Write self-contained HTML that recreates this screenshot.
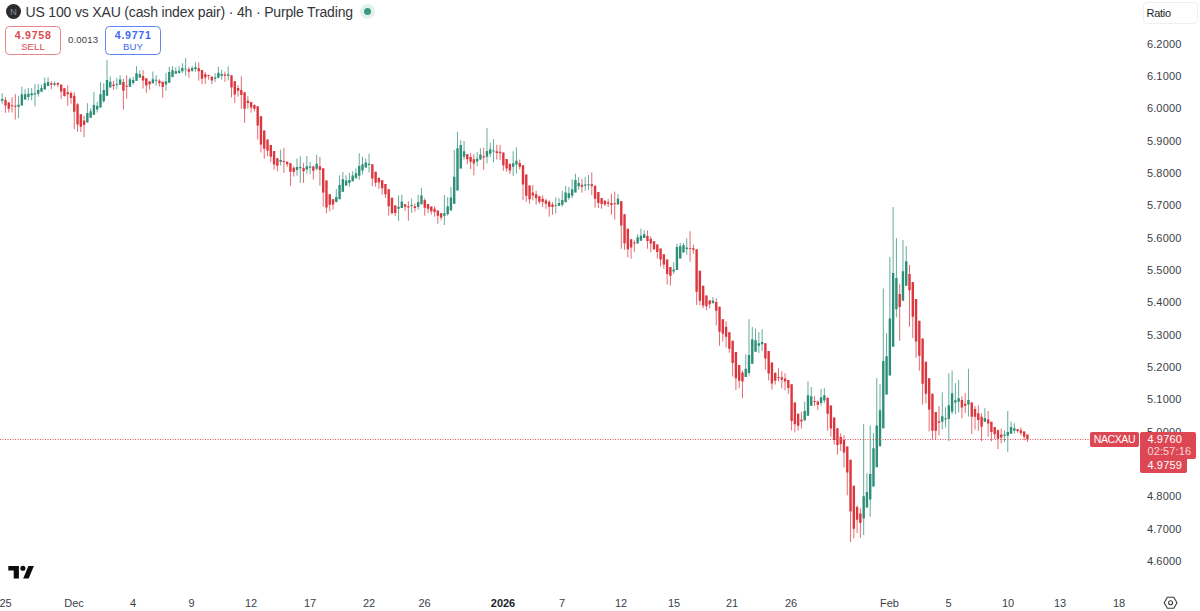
<!DOCTYPE html>
<html><head><meta charset="utf-8"><title>NACXAU chart</title>
<style>
html,body{margin:0;padding:0;background:#fff;}
body{width:1200px;height:611px;position:relative;overflow:hidden;font-family:"Liberation Sans",sans-serif;color:#131722;}
.abs{position:absolute;white-space:nowrap;}
#chart{position:absolute;left:0;top:0;width:1200px;height:611px;}
.title{left:25.5px;top:4.3px;font-size:14px;letter-spacing:-0.165px;line-height:16px;color:#33353b;}
.logoN{left:6px;top:4.1px;width:15px;height:15px;border-radius:50%;background:#2b2b2d;color:#8c8c90;font-size:9.5px;line-height:15px;text-align:center;}
.dotO{left:360.4px;top:4.4px;width:15px;height:15px;border-radius:50%;background:#e3f1ed;}
.dotI{left:364.4px;top:8.4px;width:7px;height:7px;border-radius:50%;background:#3a9780;}
.btn{top:25.6px;width:54px;height:27px;border:1px solid;border-radius:4.5px;text-align:center;}
.btn b{display:block;font-size:10.6px;line-height:12px;margin-top:2.5px;letter-spacing:0.75px;text-indent:0.4px;}
.btn span{display:block;font-size:9.6px;line-height:10px;margin-top:0.5px;letter-spacing:0.05px;}
.sell{left:5px;border-color:#e8868d;color:#dd4953;}
.buy{left:105px;border-color:#5f86f6;color:#3f68f0;}
.spread{left:68px;top:33.9px;font-size:9.6px;line-height:11px;color:#3c3f48;letter-spacing:0.15px;}
.ratio{left:1143px;top:1.5px;width:53px;height:20px;border:1px solid #efeff1;border-radius:4px;}
.ratio span{position:absolute;left:2.6px;top:4px;font-size:11px;line-height:13px;letter-spacing:-0.3px;color:#1c1f28;}
.pl{left:1146.9px;font-size:11px;line-height:13px;letter-spacing:0.15px;color:#3b3e47;}
.tl{top:596.5px;font-size:11px;line-height:13px;color:#3b3e47;transform:translateX(-50%);}
.tag{background:#dd4753;color:#fff;font-size:11px;}
</style></head><body>
<svg id="chart" viewBox="0 0 1200 611" shape-rendering="geometricPrecision">
<path d="M-1.08 95V105.4M2.2 93.2V103.75M18.58 95.8V118.3M21.85 86.7V105.4M25.13 89.2V99.6M28.4 87.9V100.4M31.68 87.9V100.4M34.96 84V106.25M38.23 84.2V96.7M41.51 84.6V91.7M44.78 77.7V89.6M48.06 77.25V86.25M54.61 81.5V86.25M87.36 103.2V122.5M90.64 108.3V117.7M93.91 92.1V114.8M97.19 101.7V112.5M100.47 82.1V107.5M103.74 83.3V102.7M107.02 60.2V95.7M110.29 76.5V87.5M116.84 77.9V89.2M120.12 75.2V85M129.94 77.3V86.7M133.22 77.1V84.6M136.5 66.25V81M139.77 70.4V77.9M152.87 71.5V83.3M156.15 75.2V85.7M165.97 72.9V90.8M169.25 66.8V82.7M172.53 66.25V77.3M175.8 67.3V74M179.08 66.25V73.5M182.35 63.2V72.9M185.63 57.9V75.8M192.18 65.8V71.7M195.45 62.1V71.7M215.11 73.2V81.8M218.38 66.7V78.3M221.66 69.8V79.6M228.21 66.25V80.4M280.62 149.6V165.4M297 158.5V175.7M300.27 156.25V182.9M306.82 156V173.75M310.1 162V174.2M316.65 154.6V170.4M336.3 189.2V202.5M339.58 175.4V199.2M342.85 172V191.8M346.13 175.4V185.7M349.4 172.9V186.7M352.68 171.25V181.25M355.95 168.3V178.3M359.23 153.2V179.8M362.51 156.7V174.6M365.78 158.5V167.7M369.06 153.75V172.5M398.54 195.4V220.8M401.81 194.8V207.9M411.64 198.5V212.9M418.19 194.8V209.6M421.46 187.9V204.3M444.39 195V225M447.67 197.3V215.8M450.94 187V210.4M454.22 150V203.75M457.49 132V190.4M460.77 140.2V168.5M464.05 141V159.6M477.15 152V166.25M480.42 148.3V160.2M486.97 128.2V163.5M490.25 142.7V157M493.53 139V162.3M513.18 151.25V175.8M516.45 147.3V173.5M555.76 197.5V213.6M559.03 198.3V205.8M562.31 190.8V206.7M565.59 186V202.3M568.86 187V199.8M572.14 179.2V198.3M575.41 173.75V192.5M578.69 177V189.8M585.24 177V190.7M588.51 175V190M617.99 194.2V204.6M637.65 234V243.5M640.92 228.75V240.7M644.2 230.2V238M673.68 262.3V273.75M676.95 243.75V270M680.23 243V258.5M683.5 243V252.5M686.78 238.2V254.8M712.98 297V303.75M745.74 354.3V377M749.01 319.2V375.5M752.29 327V363.75M755.56 328.75V351.7M758.84 332V353M762.12 329.3V351.25M804.7 401.5V420.4M807.97 381.25V415.7M811.25 387V405.7M821.07 389V405.7M824.35 388.2V403M863.66 424.2V535M866.93 473.2V507.5M870.21 425.4V516.75M873.48 433.2V486.5M876.76 378.2V467.2M880.03 384.2V446.25M883.31 288.5V428.3M886.59 333.2V394.6M889.86 257V375.4M893.14 207V346.7M896.41 238V317.5M902.96 240V300.8M906.24 246V285.7M942.27 392.3V429.2M945.54 407.3V427.5M948.82 373.2V441.25M952.1 370.4V414.3M955.37 383.2V414.3M958.65 380V412.5M968.47 368.75V416.5M984.85 408.2V422M1004.5 430.4V442M1007.78 411V451.9M1011.05 421.5V433.75M1014.33 423.2V433.5" stroke="#2e8f78" stroke-width="0.85" fill="none" opacity="0.88"/>
<path d="M5.48 97.1V112.9M8.75 102V112.5M12.03 97.1V112.5M15.3 94V119.6M51.33 81.25V89.2M57.88 82.3V87.1M61.16 84.2V98.75M64.43 87.9V96.7M67.71 85.4V105.8M70.99 91.25V103.75M74.26 92.1V129.2M77.54 103V131.7M80.81 114.3V132.1M84.09 115.8V137.1M113.57 80.8V90M123.39 78.75V109.6M126.67 75.2V98.5M143.05 70.2V88.5M146.32 78.2V92.7M149.6 80.8V89.6M159.42 79.2V86.5M162.7 81.5V97.7M188.9 67.1V77.7M198.73 62.3V80.7M202.01 69.8V84.2M205.28 72.1V83.75M208.56 74.8V79.6M211.83 76V84.2M224.93 71.5V81.8M231.49 75.2V97.5M234.76 81.25V102.9M238.04 85.2V96.7M241.31 76.25V108.75M244.59 92.3V122.9M247.86 96.25V108.75M251.14 102V112.7M254.41 104.5V111.5M257.69 106.25V139.6M260.96 116.25V152.5M264.24 130.4V158.75M267.52 139.6V156.25M270.79 145V162M274.07 151V169.6M277.34 158.2V171.25M283.89 147.9V172.9M287.17 161.5V166.8M290.44 163V185.7M293.72 166.25V176.5M303.55 162.9V182.9M313.37 165.8V179.6M319.92 156.8V185.8M323.2 168.3V206.7M326.47 180.4V213.2M329.75 194.2V211.25M333.03 199V209.6M372.33 164.3V186.25M375.61 171.7V186.6M378.88 177.7V189M382.16 180.2V194.6M385.43 184V197.9M388.71 189.2V215.7M391.98 197.7V214.6M395.26 205V216M405.09 204.2V210.8M408.36 201.25V220.7M414.91 203.3V211.7M424.74 198.3V215.7M428.02 204V212.9M431.29 206.5V214.6M434.57 206.25V216.7M437.84 210.4V223.75M441.12 213V220.4M467.32 154V164.2M470.6 153.2V169M473.87 154.2V175.4M483.7 147.7V169.8M496.8 144.8V159.6M500.08 144.8V160M503.35 152.5V170.7M506.63 159V171.8M509.9 163.75V174.2M519.73 159.6V169.6M523 165V200M526.28 174.6V201.7M529.56 185.4V203.75M532.83 185V200.4M536.11 190.8V204.6M539.38 196V203.75M542.66 195.4V207M545.93 198.75V208.75M549.21 200.4V216.5M552.48 202V214.8M581.96 179V192.7M591.79 172.3V195M595.07 185.8V207.7M598.34 192V208M601.62 198V208.75M604.89 200V205.8M608.17 199.2V207M611.44 193.75V214.8M614.72 191.7V219.6M621.27 201.25V248.75M624.54 214.2V249.8M627.82 228.75V257.3M631.1 239.2V258.75M634.37 240.2V251.8M647.47 230.4V248.75M650.75 236.25V252.3M654.02 241.25V250M657.3 244.6V258.5M660.58 248.5V266.5M663.85 254.3V268.75M667.13 259.6V284.3M670.4 267V285.4M690.05 231.25V261.7M693.33 244.6V253.75M696.61 249.2V305M699.88 270.8V305M703.16 285.8V308.3M706.43 295.4V310.4M709.71 300V308.3M716.26 298.2V325.4M719.53 306.7V345.7M722.81 319.3V341.7M726.09 321.25V347.5M729.36 332.3V352.7M732.64 340.7V376.5M735.91 352V390M739.19 365V388.3M742.46 370.4V398.3M765.39 343.2V369.6M768.67 351V380.4M771.94 362.5V389.6M775.22 372.7V384.6M778.49 368.2V381.4M781.77 371V388.4M785.04 373.2V390.4M788.32 380V393.75M791.6 384.2V430.4M794.87 402.5V432.3M798.15 413.6V430.7M801.42 412V428.5M814.52 396V406M817.8 400.4V409.8M827.63 397.7V430.8M830.9 405.4V436.7M834.18 417.5V444.6M837.45 428.3V454.6M840.73 433.2V451M844 435.2V467.4M847.28 446.5V495.4M850.55 459.8V542M853.83 485.8V538.4M857.11 505.4V533M860.38 508.2V537.8M899.69 283.75V340.8M909.51 265V326.7M912.79 282V338M916.06 299V357.7M919.34 320.7V370.7M922.62 338.5V404.6M925.89 361.7V403.3M929.17 378.2V431.5M932.44 393.75V439.6M935.72 412V439.6M938.99 406V435.4M961.92 396.25V418.3M965.2 393.2V413M971.75 402.5V434M975.02 406.25V429.6M978.3 405.4V430.8M981.57 413.3V441.25M988.13 411V436.7M991.4 421.8V441.25M994.68 427V439.2M997.95 429.6V449M1001.23 428.5V443.3M1017.61 429V432.7M1020.88 427.5V435.4M1024.16 431.5V440.4M1027.43 434.6V442" stroke="#dc363e" stroke-width="0.85" fill="none" opacity="0.88"/>
<path d="M-2.28 99H0.12V101H-2.28ZM1 99H3.4V100.7H1ZM17.38 104.8H19.78V106.7H17.38ZM20.65 94.2H23.05V105.4H20.65ZM23.93 94.2H26.33V99.6H23.93ZM27.2 93.75H29.6V97.1H27.2ZM30.48 93.2H32.88V95.2H30.48ZM33.76 93.3H36.16V94.6H33.76ZM37.03 90H39.43V93.75H37.03ZM40.31 87.9H42.71V91.7H40.31ZM43.58 83.3H45.98V89.6H43.58ZM46.86 82.1H49.26V86H46.86ZM53.41 83.3H55.81V84.8H53.41ZM86.16 112.9H88.56V122.5H86.16ZM89.44 111.25H91.84V117.7H89.44ZM92.71 105H95.11V114.8H92.71ZM95.99 105.8H98.39V109.6H95.99ZM99.27 94.2H101.67V107.5H99.27ZM102.54 90H104.94V101.25H102.54ZM105.82 80H108.22V95.7H105.82ZM109.09 81.8H111.49V87.5H109.09ZM115.64 83.75H118.04V84.8H115.64ZM118.92 79.6H121.32V84.8H118.92ZM128.74 79.2H131.14V86.7H128.74ZM132.02 80H134.42V82.9H132.02ZM135.3 73.3H137.7V80.8H135.3ZM138.57 74.3H140.97V77.5H138.57ZM151.67 79.2H154.07V83.2H151.67ZM154.95 79.8H157.35V80.7H154.95ZM164.78 81.25H167.17V84.6H164.78ZM168.05 72.1H170.45V82.7H168.05ZM171.33 70.2H173.73V77.1H171.33ZM174.6 71.25H177V73.75H174.6ZM177.88 70.7H180.28V72.9H177.88ZM181.15 67.9H183.55V71.25H181.15ZM184.43 68.72H186.83V69.62H184.43ZM190.98 67.9H193.38V70.8H190.98ZM194.25 67.3H196.65V69.3H194.25ZM213.91 77.5H216.31V78.75H213.91ZM217.18 72.7H219.58V77.7H217.18ZM220.46 74H222.86V75.8H220.46ZM227.01 74.3H229.41V75.8H227.01ZM279.42 160H281.82V161.8H279.42ZM295.8 167H298.19V170H295.8ZM299.07 167H301.47V168.2H299.07ZM305.62 166.25H308.02V169.6H305.62ZM308.9 166.5H311.3V167.7H308.9ZM315.45 163.75H317.85V168.75H315.45ZM335.1 197H337.5V202H335.1ZM338.38 185H340.78V199.2H338.38ZM341.65 179.3H344.05V191.8H341.65ZM344.93 180.4H347.33V185.5H344.93ZM348.2 180H350.6V182.9H348.2ZM351.48 175.4H353.88V181.25H351.48ZM354.75 173.2H357.15V178.3H354.75ZM358.03 166H360.43V175.7H358.03ZM361.31 164.3H363.71V170.6H361.31ZM364.58 162.5H366.98V167.6H364.58ZM367.86 163.75H370.26V165H367.86ZM397.34 206.8H399.74V208.75H397.34ZM400.61 201.5H403.01V207.9H400.61ZM410.44 205H412.84V206H410.44ZM416.99 202H419.39V207H416.99ZM420.26 195.4H422.66V204.3H420.26ZM443.19 213.3H445.59V215.8H443.19ZM446.47 206.25H448.87V214.2H446.47ZM449.74 197.5H452.14V210.4H449.74ZM453.02 176.7H455.42V203.75H453.02ZM456.29 148.3H458.69V190.4H456.29ZM459.57 145H461.97V168.5H459.57ZM462.85 151.25H465.25V156.8H462.85ZM475.95 158.75H478.35V161.5H475.95ZM479.22 154.6H481.62V159.6H479.22ZM485.77 151H488.17V156.8H485.77ZM489.05 149.2H491.45V153.75H489.05ZM492.33 150.4H494.73V151.5H492.33ZM511.98 163.3H514.38V166.7H511.98ZM515.25 160.7H517.65V164.6H515.25ZM554.56 205.15H556.96V206.05H554.56ZM557.83 202.9H560.24V205.8H557.83ZM561.11 200H563.51V204.8H561.11ZM564.39 192.5H566.79V202.3H564.39ZM567.66 193.3H570.06V197.9H567.66ZM570.94 189.3H573.34V195.7H570.94ZM574.21 180H576.61V192.5H574.21ZM577.49 182.9H579.89V186.25H577.49ZM584.04 184.6H586.44V185.7H584.04ZM587.31 184.2H589.71V185.2H587.31ZM616.79 198.75H619.19V204.6H616.79ZM636.45 237.3H638.85V243.5H636.45ZM639.72 235.7H642.12V240.7H639.72ZM643 234.3H645.4V238H643ZM672.48 269.6H674.88V271.6H672.48ZM675.75 247H678.15V270H675.75ZM679.03 246.25H681.43V258.5H679.03ZM682.3 245H684.7V252.5H682.3ZM685.58 247.5H687.98V249H685.58ZM711.78 300.4H714.18V303H711.78ZM744.54 368.75H746.94V377H744.54ZM747.81 355H750.21V373H747.81ZM751.09 339.3H753.49V363.75H751.09ZM754.36 340.3H756.76V351.7H754.36ZM757.64 343.2H760.04V345.7H757.64ZM760.92 342H763.32V344.3H760.92ZM803.5 411H805.9V420.4H803.5ZM806.77 395.2H809.17V415.7H806.77ZM810.05 396.25H812.45V405.7H810.05ZM819.87 397.3H822.27V403H819.87ZM823.15 395.2H825.55V400.4H823.15ZM862.46 496.25H864.86V518.4H862.46ZM865.73 492H868.13V507.5H865.73ZM869.01 474H871.41V499.6H869.01ZM872.28 448.3H874.68V486.5H872.28ZM875.56 425.4H877.96V467.2H875.56ZM878.83 410.3H881.23V446.25H878.83ZM882.11 361H884.51V428.3H882.11ZM885.38 356.25H887.79V394.6H885.38ZM888.66 318.5H891.06V375.4H888.66ZM891.94 273H894.34V346.7H891.94ZM895.21 278H897.61V309.3H895.21ZM901.76 271.25H904.16V300.8H901.76ZM905.04 261.25H907.44V285.7H905.04ZM941.07 416.25H943.47V421.8H941.07ZM944.34 418.2H946.74V419.6H944.34ZM947.62 405.2H950.02V419H947.62ZM950.89 393.2H953.3V411.7H950.89ZM954.17 400.3H956.57V402.4H954.17ZM957.45 398.2H959.85V401.7H957.45ZM967.27 400H969.67V404.6H967.27ZM983.65 418H986.05V421.8H983.65ZM1003.3 434.6H1005.7V435.8H1003.3ZM1006.58 432H1008.98V435.8H1006.58ZM1009.85 427H1012.25V433.75H1009.85ZM1013.13 428.2H1015.53V430.8H1013.13Z" fill="#2e8f78"/>
<path d="M4.28 100H6.68V105.4H4.28ZM7.55 102.5H9.95V108.75H7.55ZM10.83 105.2H13.23V106.25H10.83ZM14.1 105.8H16.5V106.8H14.1ZM50.13 83.3H52.53V84.8H50.13ZM56.68 82.9H59.08V84.8H56.68ZM59.96 84.8H62.36V91.5H59.96ZM63.23 88.2H65.63V96H63.23ZM66.51 92.3H68.91V94.2H66.51ZM69.79 92.9H72.19V97.9H69.79ZM73.06 95.8H75.46V111.7H73.06ZM76.34 104.2H78.74V124.6H76.34ZM79.61 114.3H82.01V126.7H79.61ZM82.89 120.4H85.29V125H82.89ZM112.37 84.6H114.77V86H112.37ZM122.19 82.1H124.59V90.8H122.19ZM125.47 85.7H127.87V86.8H125.47ZM141.85 76H144.25V80.4H141.85ZM145.12 78.3H147.52V85.4H145.12ZM148.4 81.5H150.8V84.2H148.4ZM158.22 80.7H160.62V83.3H158.22ZM161.5 81.8H163.9V87.1H161.5ZM187.7 69.2H190.1V71.7H187.7ZM197.53 68.3H199.93V71.25H197.53ZM200.81 70H203.21V78.75H200.81ZM204.08 74.3H206.48V77.5H204.08ZM207.36 75H209.76V76H207.36ZM210.63 76.8H213.03V80.4H210.63ZM223.73 74.6H226.13V75.8H223.73ZM230.29 75.2H232.69V87.5H230.29ZM233.56 81.25H235.96V94.6H233.56ZM236.84 87.9H239.24V90.8H236.84ZM240.11 90H242.51V95H240.11ZM243.39 92.3H245.79V108.75H243.39ZM246.66 100.8H249.06V102.9H246.66ZM249.94 102H252.34V107.5H249.94ZM253.21 105H255.61V108.75H253.21ZM256.49 106.25H258.89V125.4H256.49ZM259.76 116.25H262.16V144.6H259.76ZM263.04 130.4H265.44V148.75H263.04ZM266.32 139.6H268.72V150.8H266.32ZM269.59 145H271.99V156.7H269.59ZM272.87 151H275.27V164.6H272.87ZM276.14 158.2H278.54V165.7H276.14ZM282.69 161H285.09V162H282.69ZM285.97 161.7H288.37V164.2H285.97ZM289.24 163.2H291.64V171.7H289.24ZM292.52 167.7H294.92V172H292.52ZM302.35 167.9H304.75V171.25H302.35ZM312.17 166.5H314.57V170.7H312.17ZM318.72 166.25H321.12V170H318.72ZM322 168.3H324.4V192.5H322ZM325.27 180.4H327.67V207.5H325.27ZM328.55 194.2H330.95V204.8H328.55ZM331.83 199.3H334.23V204.6H331.83ZM371.13 164.3H373.53V178.6H371.13ZM374.41 171.8H376.81V182.8H374.41ZM377.68 177.8H380.08V182.5H377.68ZM380.96 180.2H383.36V188.3H380.96ZM384.23 184.1H386.63V194.2H384.23ZM387.51 189.2H389.91V206.25H387.51ZM390.78 197.7H393.18V212.9H390.78ZM394.06 205.4H396.46V212.9H394.06ZM403.89 204.3H406.29V206.7H403.89ZM407.16 206.25H409.56V207.5H407.16ZM413.71 206.25H416.11V207.9H413.71ZM423.54 200H425.94V207.7H423.54ZM426.82 204H429.22V208.75H426.82ZM430.09 206.5H432.49V211.25H430.09ZM433.37 208.75H435.77V212H433.37ZM436.64 210.4H439.04V215.8H436.64ZM439.92 213.3H442.32V217.5H439.92ZM466.12 154.2H468.52V159.2H466.12ZM469.4 157H471.8V161.7H469.4ZM472.67 159.3H475.07V163.5H472.67ZM482.5 156.25H484.9V157.5H482.5ZM495.6 151.25H498V152.9H495.6ZM498.88 151.8H501.28V153.3H498.88ZM502.15 152.5H504.55V165.4H502.15ZM505.43 159H507.83V168.5H505.43ZM508.7 163.75H511.1V170.4H508.7ZM518.53 162.9H520.93V166.7H518.53ZM521.8 165.2H524.2V184.6H521.8ZM525.08 174.6H527.48V195.8H525.08ZM528.36 185.4H530.76V199.2H528.36ZM531.63 192.5H534.03V195.4H531.63ZM534.91 194.3H537.31V198.3H534.91ZM538.18 196.25H540.58V201.7H538.18ZM541.46 198.75H543.86V202H541.46ZM544.73 200.4H547.13V203.75H544.73ZM548.01 201.7H550.41V206.7H548.01ZM551.28 204.6H553.68V207H551.28ZM580.76 184.8H583.16V186.7H580.76ZM590.59 184.2H592.99V186.25H590.59ZM593.87 185.8H596.27V198.75H593.87ZM597.14 192H599.54V203H597.14ZM600.42 198H602.82V204H600.42ZM603.69 200.8H606.09V204.6H603.69ZM606.97 202.3H609.37V203.75H606.97ZM610.24 203.3H612.64V205H610.24ZM613.52 203.3H615.92V204.2H613.52ZM620.07 201.25H622.47V225.4H620.07ZM623.34 214.2H625.75V243.3H623.34ZM626.62 228.75H629.02V249.2H626.62ZM629.9 239.2H632.3V247.5H629.9ZM633.17 242.5H635.57V243.5H633.17ZM646.27 236H648.67V241H646.27ZM649.55 238.75H651.95V243.5H649.55ZM652.82 241.25H655.22V249.2H652.82ZM656.1 244.6H658.5V252H656.1ZM659.38 248.5H661.78V259.6H659.38ZM662.65 254.3H665.05V264.6H662.65ZM665.93 259.6H668.33V273.9H665.93ZM669.2 267H671.6V275.8H669.2ZM688.85 247.93H691.25V248.82H688.85ZM692.13 248.2H694.53V249.8H692.13ZM695.41 249.2H697.81V291.7H695.41ZM698.68 270.8H701.08V300.8H698.68ZM701.96 285.8H704.36V305.4H701.96ZM705.23 295.4H707.63V306.25H705.23ZM708.51 300.4H710.91V304.2H708.51ZM715.06 302H717.46V310.8H715.06ZM718.33 306.7H720.73V331.7H718.33ZM721.61 319.3H724.01V333.75H721.61ZM724.89 326.7H727.29V336.7H724.89ZM728.16 332.3H730.56V348.75H728.16ZM731.44 340.7H733.84V363H731.44ZM734.71 352H737.11V378.2H734.71ZM737.99 365H740.39V380.7H737.99ZM741.26 372.5H743.66V381.6H741.26ZM764.19 343.2H766.59V358.5H764.19ZM767.47 351H769.87V373.4H767.47ZM770.74 362.5H773.14V383.4H770.74ZM774.02 372.7H776.42V380.7H774.02ZM777.29 377H779.69V378H777.29ZM780.57 377.3H782.97V379.7H780.57ZM783.84 378.4H786.24V381.5H783.84ZM787.12 380H789.52V388H787.12ZM790.4 384.2H792.8V421H790.4ZM793.67 402.5H796.07V424.2H793.67ZM796.95 413.7H799.35V425.7H796.95ZM800.22 419.8H802.62V421.5H800.22ZM813.32 401H815.72V402H813.32ZM816.6 401.5H819V404.8H816.6ZM826.43 397.7H828.83V413.75H826.43ZM829.7 405.4H832.1V428.6H829.7ZM832.98 417.5H835.38V440H832.98ZM836.25 428.3H838.65V445H836.25ZM839.53 437H841.93V444H839.53ZM842.8 440H845.2V452.5H842.8ZM846.08 446.5H848.48V472.5H846.08ZM849.35 459.8H851.75V511.5H849.35ZM852.63 485.8H855.03V528.7H852.63ZM855.91 507H858.31V519.7H855.91ZM859.18 513.4H861.58V523H859.18ZM898.49 294H900.89V307H898.49ZM908.31 274H910.71V290.2H908.31ZM911.59 282H913.99V316.7H911.59ZM914.86 299H917.26V341.5H914.86ZM918.14 320.7H920.54V355.7H918.14ZM921.42 338.5H923.82V383.75H921.42ZM924.69 361.7H927.09V393.75H924.69ZM927.97 378.2H930.37V409.6H927.97ZM931.24 393.75H933.64V430.7H931.24ZM934.52 412H936.92V430.7H934.52ZM937.79 421.25H940.19V422.7H937.79ZM960.72 400H963.12V407.5H960.72ZM964 403.75H966.4V405.8H964ZM970.55 402.5H972.95V416.7H970.55ZM973.82 409H976.22V416.7H973.82ZM977.1 413.3H979.5V420H977.1ZM980.37 416.7H982.77V426.7H980.37ZM986.93 419.6H989.33V423.5H986.93ZM990.2 421.8H992.6V432H990.2ZM993.48 427H995.88V434.3H993.48ZM996.75 430.2H999.15V438.75H996.75ZM1000.03 434.6H1002.43V437.5H1000.03ZM1016.4 429.2H1018.81V431H1016.4ZM1019.68 430.2H1022.08V433H1019.68ZM1022.96 431.5H1025.36V436.8H1022.96ZM1026.23 434.6H1028.63V439.3H1026.23Z" fill="#dc363e"/>

<line x1="0" y1="439.5" x2="1090" y2="439.5" stroke="#e0525b" stroke-width="1" stroke-dasharray="1 1.5"/>
<!-- TV logo -->
<g fill="#0c0c0c"><path d="M8.3 566H18.9V578.5H13.7V570.6H8.3Z"/><circle cx="22.9" cy="568.3" r="2.55"/><path d="M28.4 566H33.9L28.7 578.5H23.2Z"/></g>
<!-- settings hex -->
<g fill="none" stroke="#3a3a3e" stroke-width="1.1" stroke-linejoin="round"><path d="M1164.2 602.8L1167.4 597.3H1173.8L1177 602.8L1173.8 608.3H1167.4Z"/><circle cx="1170.6" cy="602.8" r="2"/></g>
</svg>
<div class="abs logoN">N</div>
<div class="abs title">US 100 vs XAU (cash index pair) · 4h · Purple Trading</div>
<div class="abs dotO"></div><div class="abs dotI"></div>
<div class="abs btn sell"><b>4.9758</b><span>SELL</span></div>
<div class="abs spread">0.0013</div>
<div class="abs btn buy"><b>4.9771</b><span>BUY</span></div>
<div class="abs ratio"><span>Ratio</span></div>
<div class="abs pl" style="top:37.5px">6.2000</div>
<div class="abs pl" style="top:69.84px">6.1000</div>
<div class="abs pl" style="top:102.18px">6.0000</div>
<div class="abs pl" style="top:134.52px">5.9000</div>
<div class="abs pl" style="top:166.86px">5.8000</div>
<div class="abs pl" style="top:199.2px">5.7000</div>
<div class="abs pl" style="top:231.54px">5.6000</div>
<div class="abs pl" style="top:263.88px">5.5000</div>
<div class="abs pl" style="top:296.22px">5.4000</div>
<div class="abs pl" style="top:328.56px">5.3000</div>
<div class="abs pl" style="top:360.9px">5.2000</div>
<div class="abs pl" style="top:393.24px">5.1000</div>
<div class="abs pl" style="top:425.58px">5.0000</div>
<div class="abs pl" style="top:457.92px">4.9000</div>
<div class="abs pl" style="top:490.26px">4.8000</div>
<div class="abs pl" style="top:522.6px">4.7000</div>
<div class="abs pl" style="top:554.94px">4.6000</div>
<div class="abs tag" style="left:1090px;top:432.2px;width:49px;height:14.4px;border-radius:2px;"><span class="abs" style="left:3.8px;top:0.7px;font-size:10.5px;line-height:13px;letter-spacing:-0.4px;">NACXAU</span></div>
<div class="abs tag" style="left:1140.1px;top:432.2px;width:56.4px;height:26.4px;border-radius:2px 2px 2px 0;"><span class="abs" style="left:7.3px;top:0.8px;line-height:13px;letter-spacing:0.15px;">4.9760</span><span class="abs" style="left:7.3px;top:12.6px;line-height:13px;letter-spacing:0.14px;color:#f7d4d7;">02:57:16</span></div>
<div class="abs tag" style="left:1140.1px;top:458.4px;width:46.5px;height:14.3px;border-radius:0 0 2px 2px;"><span class="abs" style="left:7.3px;top:1px;line-height:13px;letter-spacing:0.15px;">4.9759</span></div>
<div class="abs tl" style="left:5.6px">25</div>
<div class="abs tl" style="left:74px">Dec</div>
<div class="abs tl" style="left:133px">4</div>
<div class="abs tl" style="left:191.5px">9</div>
<div class="abs tl" style="left:251px">12</div>
<div class="abs tl" style="left:310px">17</div>
<div class="abs tl" style="left:369px">22</div>
<div class="abs tl" style="left:424.5px">26</div>
<div class="abs tl" style="left:503px;font-weight:700;color:#1c1f28">2026</div>
<div class="abs tl" style="left:562px">7</div>
<div class="abs tl" style="left:621px">12</div>
<div class="abs tl" style="left:674px">15</div>
<div class="abs tl" style="left:732px">21</div>
<div class="abs tl" style="left:791px">26</div>
<div class="abs tl" style="left:889.5px">Feb</div>
<div class="abs tl" style="left:948.5px">5</div>
<div class="abs tl" style="left:1008px">10</div>
<div class="abs tl" style="left:1060px">13</div>
<div class="abs tl" style="left:1119px">18</div>
</body></html>
